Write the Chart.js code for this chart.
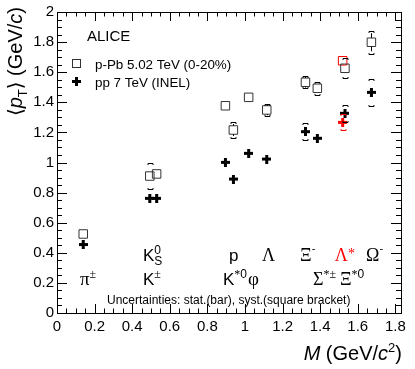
<!DOCTYPE html>
<html>
<head>
<meta charset="utf-8">
<script src="https://cdn.jsdelivr.net/npm/chart.js@4"></script>
<style>
  html, body { margin: 0; padding: 0; background: #fff; }
  #wrap { width: 415px; height: 369px; }
</style>
</head>
<body>
<div id="wrap"><canvas id="mpt" width="415" height="369"></canvas></div>
<script>
// particles, ordered by mass
const particles = ['π±', 'K±', 'K0S', 'K*0', 'p', 'φ', 'Λ', 'Ξ-', 'Σ*±', 'Λ*', 'Ξ*0', 'Ω-'];
const massPos = [0.1396, 0.4937, 0.530, 0.8959, 0.9383, 1.0195, 1.1157, 1.3217, 1.385, 1.5195, 1.5318, 1.6725];

// p-Pb 5.02 TeV (0-20%)
const ppbVal  = [0.525, 0.910, 0.924, 1.377, 1.216, 1.433, 1.349, 1.533, 1.493, 1.676, 1.626, 1.799];
const ppbStat = [0.003, 0.005, 0.005, 0.010, 0.040, 0.010, 0.035, 0.035, 0.020, 0.030, 0.020, 0.060];
const ppbSyst = [0.020, 0.088, 0.020, 0.020, 0.050, 0.020, 0.040, 0.040, 0.045, 0.040, 0.066, 0.075];

// pp 7 TeV (INEL)
const ppVal  = [0.455, 0.762, 0.762, 1.001, 0.890, 1.061, 1.023, 1.205, 1.161, 1.267, 1.327, 1.466];
const ppStat = [0.002, 0.003, 0.003, 0.010, 0.005, 0.010, 0.005, 0.010, 0.030, 0.020, 0.010, 0.020];
const ppSyst = [0.015, 0.015, 0.020, 0.020, 0.020, 0.020, 0.020, 0.055, 0.030, 0.053, 0.055, 0.088];

const redIdx = 9; // Lambda*

const xTickValues = [0, 0.2, 0.4, 0.6, 0.8, 1, 1.2, 1.4, 1.6, 1.8];
const xTickLabels = ['0', '0.2', '0.4', '0.6', '0.8', '1', '1.2', '1.4', '1.6', '1.8'];
const yTickValues = [0, 0.2, 0.4, 0.6, 0.8, 1, 1.2, 1.4, 1.6, 1.8, 2];
const yTickLabels = ['0', '0.2', '0.4', '0.6', '0.8', '1', '1.2', '1.4', '1.6', '1.8', '2'];

const SANS = '"Liberation Sans", Arial, sans-serif';
const SERIF = '"Liberation Serif", "Times New Roman", serif';
const RED = '#ff0000';

// filled plus marker (like ROOT marker 34)
function plusImg(color) {
    const c = document.createElement('canvas');
    c.width = 9; c.height = 9;
    const g = c.getContext('2d');
    g.fillStyle = color;
    g.fillRect(3, 0, 3, 9);
    g.fillRect(0, 3, 9, 3);
    return c;
}
const plusBlack = plusImg('#000');
const plusRed = plusImg(RED);

// text pieces: [text, size, family, dy, keepX, italic]
function fontOf(p) { return (p[5] ? 'italic ' : '') + p[1] + 'px ' + (p[2] || SANS); }
function rich(ctx, x, y, parts, color) {
    let cx = x;
    ctx.fillStyle = color || '#000';
    ctx.textAlign = 'left';
    ctx.textBaseline = 'alphabetic';
    parts.forEach(p => {
        ctx.font = fontOf(p);
        ctx.fillText(p[0], cx, y + (p[3] || 0));
        if (!p[4]) cx += ctx.measureText(p[0]).width;
    });
    return cx - x;
}
function richW(ctx, parts) {
    let w = 0;
    parts.forEach(p => { ctx.font = fontOf(p); if (!p[4]) w += ctx.measureText(p[0]).width; });
    return w;
}

// particle labels, left edge / baseline in axis units
const labels = [
    { x: 0.457, y: 0.345, parts: [['K', 17], ['0', 12, SANS, -7, true], ['S', 12, SANS, 4]] },
    { x: 0.915, y: 0.345, parts: [['p', 17]] },
    { x: 1.090, y: 0.345, parts: [['Λ', 18, SERIF]] },
    { x: 1.293, y: 0.345, parts: [['Ξ', 18, SERIF], ['-', 11, SANS, -9]] },
    { x: 1.478, y: 0.345, parts: [['Λ', 18, SERIF], ['*', 14, SERIF, -3]], color: RED },
    { x: 1.644, y: 0.345, parts: [['Ω', 18, SERIF], ['-', 11, SANS, -9]] },
    { x: 0.122, y: 0.186, parts: [['π', 19, SERIF], ['±', 12, SERIF, -7]] },
    { x: 0.457, y: 0.186, parts: [['K', 17], ['±', 12, SERIF, -7]] },
    { x: 0.883, y: 0.186, parts: [['K', 17], ['*', 12, SERIF, -7], ['0', 12, SANS, -7], [' ', 4], ['φ', 19, SERIF]] },
    { x: 1.362, y: 0.186, parts: [['Σ', 18, SERIF], ['*', 12, SERIF, -7], ['±', 12, SERIF, -7]] },
    { x: 1.505, y: 0.186, parts: [['Ξ', 18, SERIF], ['*', 12, SERIF, -7], ['0', 12, SANS, -7]] },
    { x: 0.266, y: 0.060, parts: [['Uncertainties: stat.(bar), syst.(square bracket)', 12]] }
];

function drawErrors(ctx, xs, ys, vals, stat, syst, half) {
    ctx.lineWidth = 1;
    for (let i = 0; i < vals.length; i++) {
        const px = Math.round(xs.getPixelForValue(massPos[i])) + 0.5;
        const py = ys.getPixelForValue(vals[i]);
        ctx.strokeStyle = i === redIdx ? RED : '#000';
        // stat bar, outside the marker
        const sT = ys.getPixelForValue(vals[i] + stat[i]);
        const sB = ys.getPixelForValue(vals[i] - stat[i]);
        ctx.beginPath();
        if (py - sT > half) { ctx.moveTo(px, py - half); ctx.lineTo(px, sT); }
        if (sB - py > half) { ctx.moveTo(px, py + half); ctx.lineTo(px, sB); }
        ctx.stroke();
        // syst brackets, hidden by the marker when small
        const bT = Math.round(ys.getPixelForValue(vals[i] + syst[i])) + 0.5;
        const bB = Math.round(ys.getPixelForValue(vals[i] - syst[i])) + 0.5;
        if (py - bT <= half + 1) continue;
        ctx.beginPath();
        ctx.moveTo(px - 2.5, bT + 1.5); ctx.lineTo(px - 2.5, bT); ctx.lineTo(px + 2.5, bT); ctx.lineTo(px + 2.5, bT + 1.5);
        ctx.moveTo(px - 2.5, bB - 1.5); ctx.lineTo(px - 2.5, bB); ctx.lineTo(px + 2.5, bB); ctx.lineTo(px + 2.5, bB - 1.5);
        ctx.stroke();
    }
}

function drawTitle(ctx, parts, x0, y0) {
    let cx = x0;
    ctx.fillStyle = '#000';
    ctx.textAlign = 'left';
    ctx.textBaseline = 'alphabetic';
    parts.forEach(p => {
        ctx.font = fontOf(p);
        ctx.fillText(p[0], cx, y0 + (p[3] || 0));
        cx += ctx.measureText(p[0]).width;
    });
}

const rootPlugin = {
    id: 'rootStyle',
    afterDatasetsDraw(chart) {
        const ctx = chart.ctx;
        const { x, y } = chart.scales;
        ctx.save();
        drawErrors(ctx, x, y, ppbVal, ppbStat, ppbSyst, 4.3);
        drawErrors(ctx, x, y, ppVal, ppStat, ppSyst, 4.5);
        ctx.restore();
    },
    afterDraw(chart) {
        const ctx = chart.ctx;
        const a = chart.chartArea;
        const { x, y } = chart.scales;
        ctx.save();
        // frame
        ctx.strokeStyle = '#000';
        ctx.lineWidth = 1;
        ctx.strokeRect(Math.round(a.left) + 0.5, Math.round(a.top) + 0.5,
                       Math.round(a.right - a.left), Math.round(a.bottom - a.top));
        // inward ticks on all four sides
        ctx.beginPath();
        for (let k = 0; k <= 36; k++) {
            const px = Math.round(x.getPixelForValue(k * 0.05)) + 0.5;
            const len = k % 4 === 0 ? 9 : 4.5;
            ctx.moveTo(px, a.bottom); ctx.lineTo(px, a.bottom - len);
            ctx.moveTo(px, a.top); ctx.lineTo(px, a.top + len);
        }
        for (let k = 0; k <= 40; k++) {
            const py = Math.round(y.getPixelForValue(k * 0.05)) + 0.5;
            const len = k % 4 === 0 ? 10 : 5;
            ctx.moveTo(a.left, py); ctx.lineTo(a.left + len, py);
            ctx.moveTo(a.right, py); ctx.lineTo(a.right - len, py);
        }
        ctx.stroke();

        // ALICE + legend
        rich(ctx, 87, 40.5, [['ALICE', 15]]);
        ctx.strokeStyle = '#333';
        ctx.strokeRect(72.5, 59.5, 8, 8);
        ctx.drawImage(plusBlack, 72, 77);
        rich(ctx, 95, 68.5, [['p-Pb 5.02 TeV (0-20%)', 13.4]]);
        rich(ctx, 95, 86.5, [['pp 7 TeV (INEL)', 13.4]]);

        // particle names
        labels.forEach(l => {
            rich(ctx, x.getPixelForValue(l.x), y.getPixelForValue(l.y), l.parts, l.color);
        });

        // x title, right aligned to the frame
        const xt = [['M', 20, SANS, 0, false, true], [' (GeV/', 20], ['c', 20, SANS, 0, false, true],
                    ['2', 13, SANS, -8], [')', 20]];
        drawTitle(ctx, xt, a.right + 1 - richW(ctx, xt), 360);

        // y title, rotated, ending at the top
        const yt = [['⟨', 20, '"DejaVu Sans", sans-serif'], ['p', 20, SANS, 0, false, true], ['T', 13, SANS, 5],
                    ['⟩', 20, '"DejaVu Sans", sans-serif'], [' (GeV/', 20], ['c', 20, SANS, 0, false, true], [')', 20]];
        ctx.translate(21.5, 7);
        ctx.rotate(-Math.PI / 2);
        drawTitle(ctx, yt, -richW(ctx, yt), 0);
        ctx.restore();
    }
};

Chart.defaults.font.family = SANS;
Chart.defaults.color = '#000';

new Chart(document.getElementById('mpt').getContext('2d'), {
    type: 'scatter',
    data: {
        datasets: [
            {
                label: 'p-Pb 5.02 TeV (0-20%)',
                data: massPos.map((m, i) => ({ x: m, y: ppbVal[i] })),
                pointStyle: 'rect',
                pointRadius: 6,
                borderWidth: 1,
                backgroundColor: 'rgba(0,0,0,0)',
                borderColor: ctx => ctx.dataIndex === redIdx ? RED : '#333'
            },
            {
                label: 'pp 7 TeV (INEL)',
                data: massPos.map((m, i) => ({ x: m, y: ppVal[i] })),
                pointStyle: ctx => ctx.dataIndex === redIdx ? plusRed : plusBlack,
                pointRadius: 5
            }
        ]
    },
    options: {
        responsive: false,
        animation: false,
        layout: { padding: { top: 12, right: 14, left: 0, bottom: 0 } },
        plugins: { legend: { display: false }, tooltip: { enabled: false } },
        scales: {
            x: {
                type: 'linear', min: 0, max: 1.83,
                grid: { display: false, drawTicks: false },
                border: { display: false },
                afterBuildTicks: s => { s.ticks = xTickValues.map(v => ({ value: v })); },
                afterFit: s => { s.height = 56; },
                ticks: {
                    autoSkip: false, maxRotation: 0, padding: 5,
                    font: { size: 15 },
                    callback: (v, i) => xTickLabels[i]
                }
            },
            y: {
                type: 'linear', min: 0, max: 2,
                grid: { display: false, drawTicks: false },
                border: { display: false },
                afterBuildTicks: s => { s.ticks = yTickValues.map(v => ({ value: v })); },
                afterFit: s => { s.width = 57; },
                ticks: {
                    autoSkip: false, padding: 3,
                    font: { size: 15 },
                    callback: (v, i) => yTickLabels[i]
                }
            }
        }
    },
    plugins: [rootPlugin]
});
</script>
</body>
</html>
